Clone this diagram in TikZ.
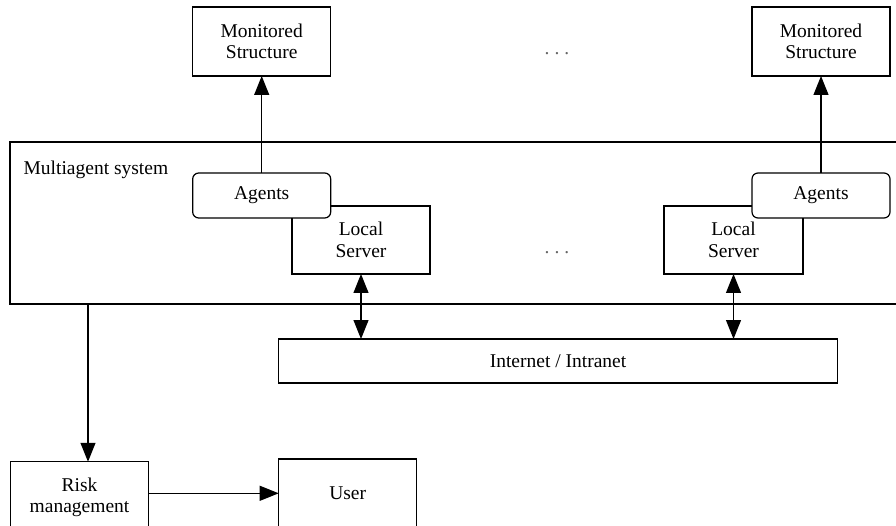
\documentclass[tikz,border=0pt]{standalone}
\usepackage{fontspec}
\setmainfont{Liberation Serif}
\usetikzlibrary{arrows.meta}
\begin{document}
\begin{tikzpicture}[x=1pt,y=-1pt,line width=1.2pt,
  font=\fontsize{19.5pt}{21.5pt}\selectfont,
  box/.style={draw,rectangle,inner sep=0pt,outer sep=0pt,align=center},
  agentbox/.style={box,fill=white,rounded corners=6pt},
  arr/.style={-{Triangle[length=19pt,width=15pt]}},
  dbl/.style={{Triangle[length=19pt,width=15pt]}-{Triangle[length=19pt,width=15pt]}},
  dotsstyle/.style={text=black!60,inner sep=0pt,anchor=base}]
\useasboundingbox (0,0) rectangle (896,526);
\clip (0,0) rectangle (896,526);
% top monitored structures
\node[box,minimum width=138pt,minimum height=69pt] (ms1) at (261.7,41.5) {Monitored\\Structure};
\node[box,minimum width=138pt,minimum height=69pt] (ms2) at (821,41.5) {Monitored\\Structure};
\node[dotsstyle] (dots1) at (557,55) {.\hspace{5pt}.\hspace{5pt}.};
% multiagent system
\node[box,minimum width=895pt,minimum height=162pt] (mas) at (457.5,223) {};
\node[inner sep=0pt,anchor=base west] (maslabel) at (23,175) {Multiagent system};
% local servers
\node[box,fill=white,minimum width=138pt,minimum height=68pt] (ls1) at (361,240) {Local\\Server};
\node[box,fill=white,minimum width=139pt,minimum height=68pt] (ls2) at (733.5,240) {Local\\Server};
\node[dotsstyle] (dots2) at (557,254) {.\hspace{5pt}.\hspace{5pt}.};
% agents
\node[agentbox,minimum width=138pt,minimum height=45pt] (ag1) at (261.7,195.5) {Agents};
\node[agentbox,minimum width=138pt,minimum height=45pt] (ag2) at (821,195.5) {Agents};
% internet
\node[box,minimum width=558.6pt,minimum height=44pt] (net) at (558,361) {Internet / Intranet};
% bottom
\node[box,minimum width=137.6pt,minimum height=71.3pt] (risk) at (79.5,497.4) {Risk\\management};
\node[box,minimum width=138pt,minimum height=68pt] (user) at (347.7,493) {User};
% connectors
\draw[arr] (ag1.north) -- (ms1.south);
\draw[arr] (ag2.north) -- (ms2.south);
\draw[dbl] (ls1.south) -- (ls1.south |- net.north);
\draw[dbl] (ls2.south) -- (ls2.south |- net.north);
\coordinate (masout) at (88,304);
\draw[arr] (masout) -- (masout |- risk.north);
\coordinate (riskout) at (148.3,493.3);
\draw[arr] (riskout) -- (riskout -| user.west);
\end{tikzpicture}
\end{document}
